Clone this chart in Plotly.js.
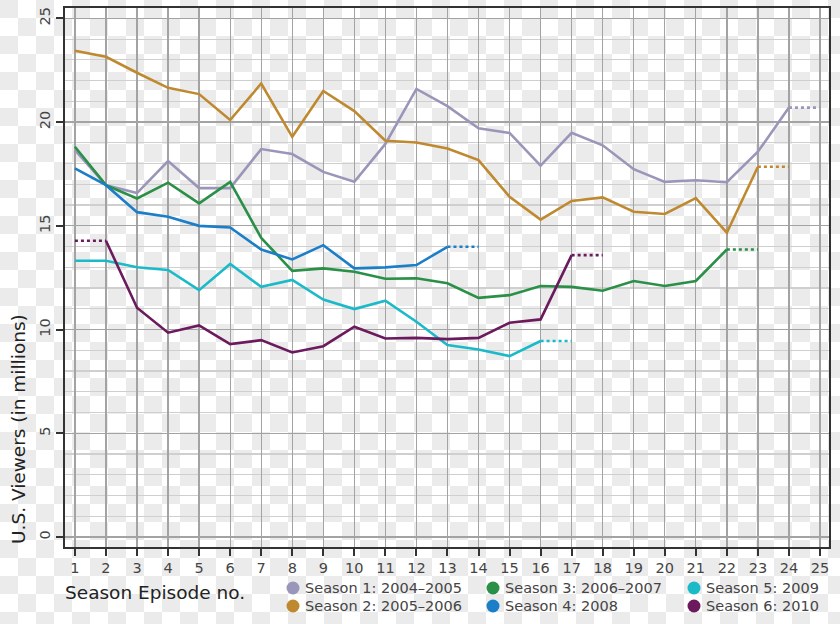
<!DOCTYPE html>
<html>
<head>
<meta charset="utf-8">
<script src="https://cdn.plot.ly/plotly-3.0.1.min.js"></script>
<style>
  html, body { margin: 0; padding: 0; }
  body {
    width: 840px; height: 624px; overflow: hidden;
    background: repeating-conic-gradient(#ffffff 0 25%, #ebebeb 0 50%) 0 0 / 36px 36px;
  }
  #chart { width: 840px; height: 624px; }
</style>
</head>
<body>
<div id="chart"></div>
<script>
// Episode numbers
const episodes = [1,2,3,4,5,6,7,8,9,10,11,12,13,14,15,16,17,18,19,20,21,22,23,24,25];

// U.S. viewers (millions) per season, by episode
const season1 = [18.65,16.96,16.58,18.12,16.82,16.82,18.70,18.46,17.60,17.12,18.95,21.60,20.77,19.70,19.48,17.90,19.48,18.88,17.73,17.12,17.20,17.10,18.57,20.70];
const season2 = [23.44,23.15,22.38,21.65,21.35,20.10,21.86,19.29,21.50,20.53,19.10,19.02,18.73,18.17,16.40,15.30,16.20,16.37,15.68,15.57,16.34,14.67,17.85];
const season3 = [18.81,16.96,16.32,17.08,16.08,17.12,14.42,12.83,12.95,12.79,12.45,12.47,12.23,11.53,11.66,12.10,12.06,11.87,12.34,12.10,12.34,13.86];
const season4 = [17.77,16.96,15.66,15.44,15.00,14.92,13.86,13.38,14.07,12.95,13.00,13.11,13.99];
const season5 = [13.32,13.32,13.00,12.87,11.90,13.16,12.06,12.39,11.45,10.99,11.39,10.38,9.25,9.04,8.72,9.45];
const season6 = [null,14.28,11.05,9.85,10.20,9.30,9.49,8.90,9.20,10.14,9.57,9.60,9.54,9.60,10.33,10.49,13.59];

// Two-part episodes (dotted segments): [episode from, episode to, viewers]
const season1Dotted = [[24,25,20.70]];
const season2Dotted = [[23,24,17.85]];
const season3Dotted = [[22,23,13.86]];
const season4Dotted = [[13,14,13.99]];
const season5Dotted = [[16,17,9.45]];
const season6Dotted = [[1,2,14.28],[17,18,13.59]];

const seasonNames = ["Season 1: 2004–2005","Season 2: 2005–2006","Season 3: 2006–2007","Season 4: 2008","Season 5: 2009","Season 6: 2010"];
const seasonColors = ["#9a96ba","#bf8a2f","#2a8f47","#1b7ec8","#1bbac9","#6b1a5d"];
const seasonValues = [season1,season2,season3,season4,season5,season6];
const seasonDotted = [season1Dotted,season2Dotted,season3Dotted,season4Dotted,season5Dotted,season6Dotted];

const traces = [];
seasonValues.forEach((vals, i) => {
  traces.push({
    type: 'scatter', mode: 'lines',
    x: episodes.slice(0, vals.length), y: vals,
    line: {color: seasonColors[i], width: 2.6},
    connectgaps: false, showlegend: false, hoverinfo: 'skip'
  });
  seasonDotted[i].forEach(seg => {
    traces.push({
      type: 'scatter', mode: 'lines',
      x: [seg[0], seg[1]], y: [seg[2], seg[2]],
      line: {color: seasonColors[i], width: 2.6, dash: 'dot'},
      showlegend: false, hoverinfo: 'skip'
    });
  });
});

// Manual legend layout (3 columns x 2 rows)
const legendCols = [[0,1],[2,3],[4,5]];
const colX = [293, 493, 694];   // pixel x of marker centres
const rowY = [588, 606];        // pixel y of rows
const W = 840, H = 624, ML = 65, MR = 11, MT = 8, MB = 77;
const pw = W - ML - MR, ph = H - MT - MB;
const px = x => (x - ML) / pw;
const py = y => (H - MB - y) / ph;

const shapes = [];
const annotations = [];
legendCols.forEach((col, c) => {
  col.forEach((si, r) => {
    shapes.push({
      type: 'circle', xref: 'paper', yref: 'paper',
      xsizemode: 'pixel', ysizemode: 'pixel',
      xanchor: px(colX[c]), yanchor: py(rowY[r]),
      x0: -6.5, x1: 6.5, y0: -6.5, y1: 6.5,
      fillcolor: seasonColors[si], line: {width: 0}
    });
    annotations.push({
      xref: 'paper', yref: 'paper', x: px(colX[c] + 10), y: py(rowY[r]),
      xanchor: 'left', yanchor: 'middle', showarrow: false,
      text: seasonNames[si],
      font: {family: 'DejaVu Sans', size: 14.5, color: '#444'}
    });
  });
});

annotations.push({
  xref: 'paper', yref: 'paper', x: px(63), y: py(592),
  xanchor: 'left', yanchor: 'middle', showarrow: false,
  text: 'Season Episode no.',
  font: {family: 'DejaVu Sans', size: 18.5, color: '#222'}
});
annotations.push({
  xref: 'paper', yref: 'paper', x: px(18), y: py(546),
  xanchor: 'center', yanchor: 'bottom', showarrow: false, textangle: -90,
  text: 'U.S. Viewers (in millions)',
  font: {family: 'DejaVu Sans', size: 18.5, color: '#222'}
});

const layout = {
  width: W, height: H,
  margin: {l: ML, r: MR, t: MT, b: MB, pad: 0},
  paper_bgcolor: 'rgba(0,0,0,0)',
  plot_bgcolor: 'rgba(0,0,0,0)',
  font: {family: 'DejaVu Sans', color: '#444'},
  showlegend: false,
  xaxis: {
    range: [0.68, 25.29],
    tickvals: episodes, ticktext: episodes.map(String),
    ticks: 'outside', ticklen: 7, tickwidth: 2, tickcolor: '#333',
    showline: true, linecolor: '#333', linewidth: 2, mirror: true,
    showgrid: true, gridcolor: '#a3a3a3', gridwidth: 1.3,
    zeroline: false,
    tickfont: {family: 'DejaVu Sans', size: 14.5, color: '#444'}
  },
  yaxis: {
    range: [-0.48, 25.5],
    tickvals: [0,5,10,15,20,25],
    ticks: 'outside', ticklen: 7, tickwidth: 2, tickcolor: '#333',
    tickangle: -90,
    showline: true, linecolor: '#333', linewidth: 2, mirror: true,
    showgrid: true, gridcolor: '#a3a3a3', gridwidth: 1.3,
    minor: {dtick: 1, showgrid: true, gridcolor: '#cfcfcf', gridwidth: 1.2, ticks: ''},
    zeroline: false,
    tickfont: {family: 'DejaVu Sans', size: 14.5, color: '#444'}
  },
  shapes: shapes,
  annotations: annotations
};

Plotly.newPlot('chart', traces, layout, {displayModeBar: false, staticPlot: true});
</script>
</body>
</html>
